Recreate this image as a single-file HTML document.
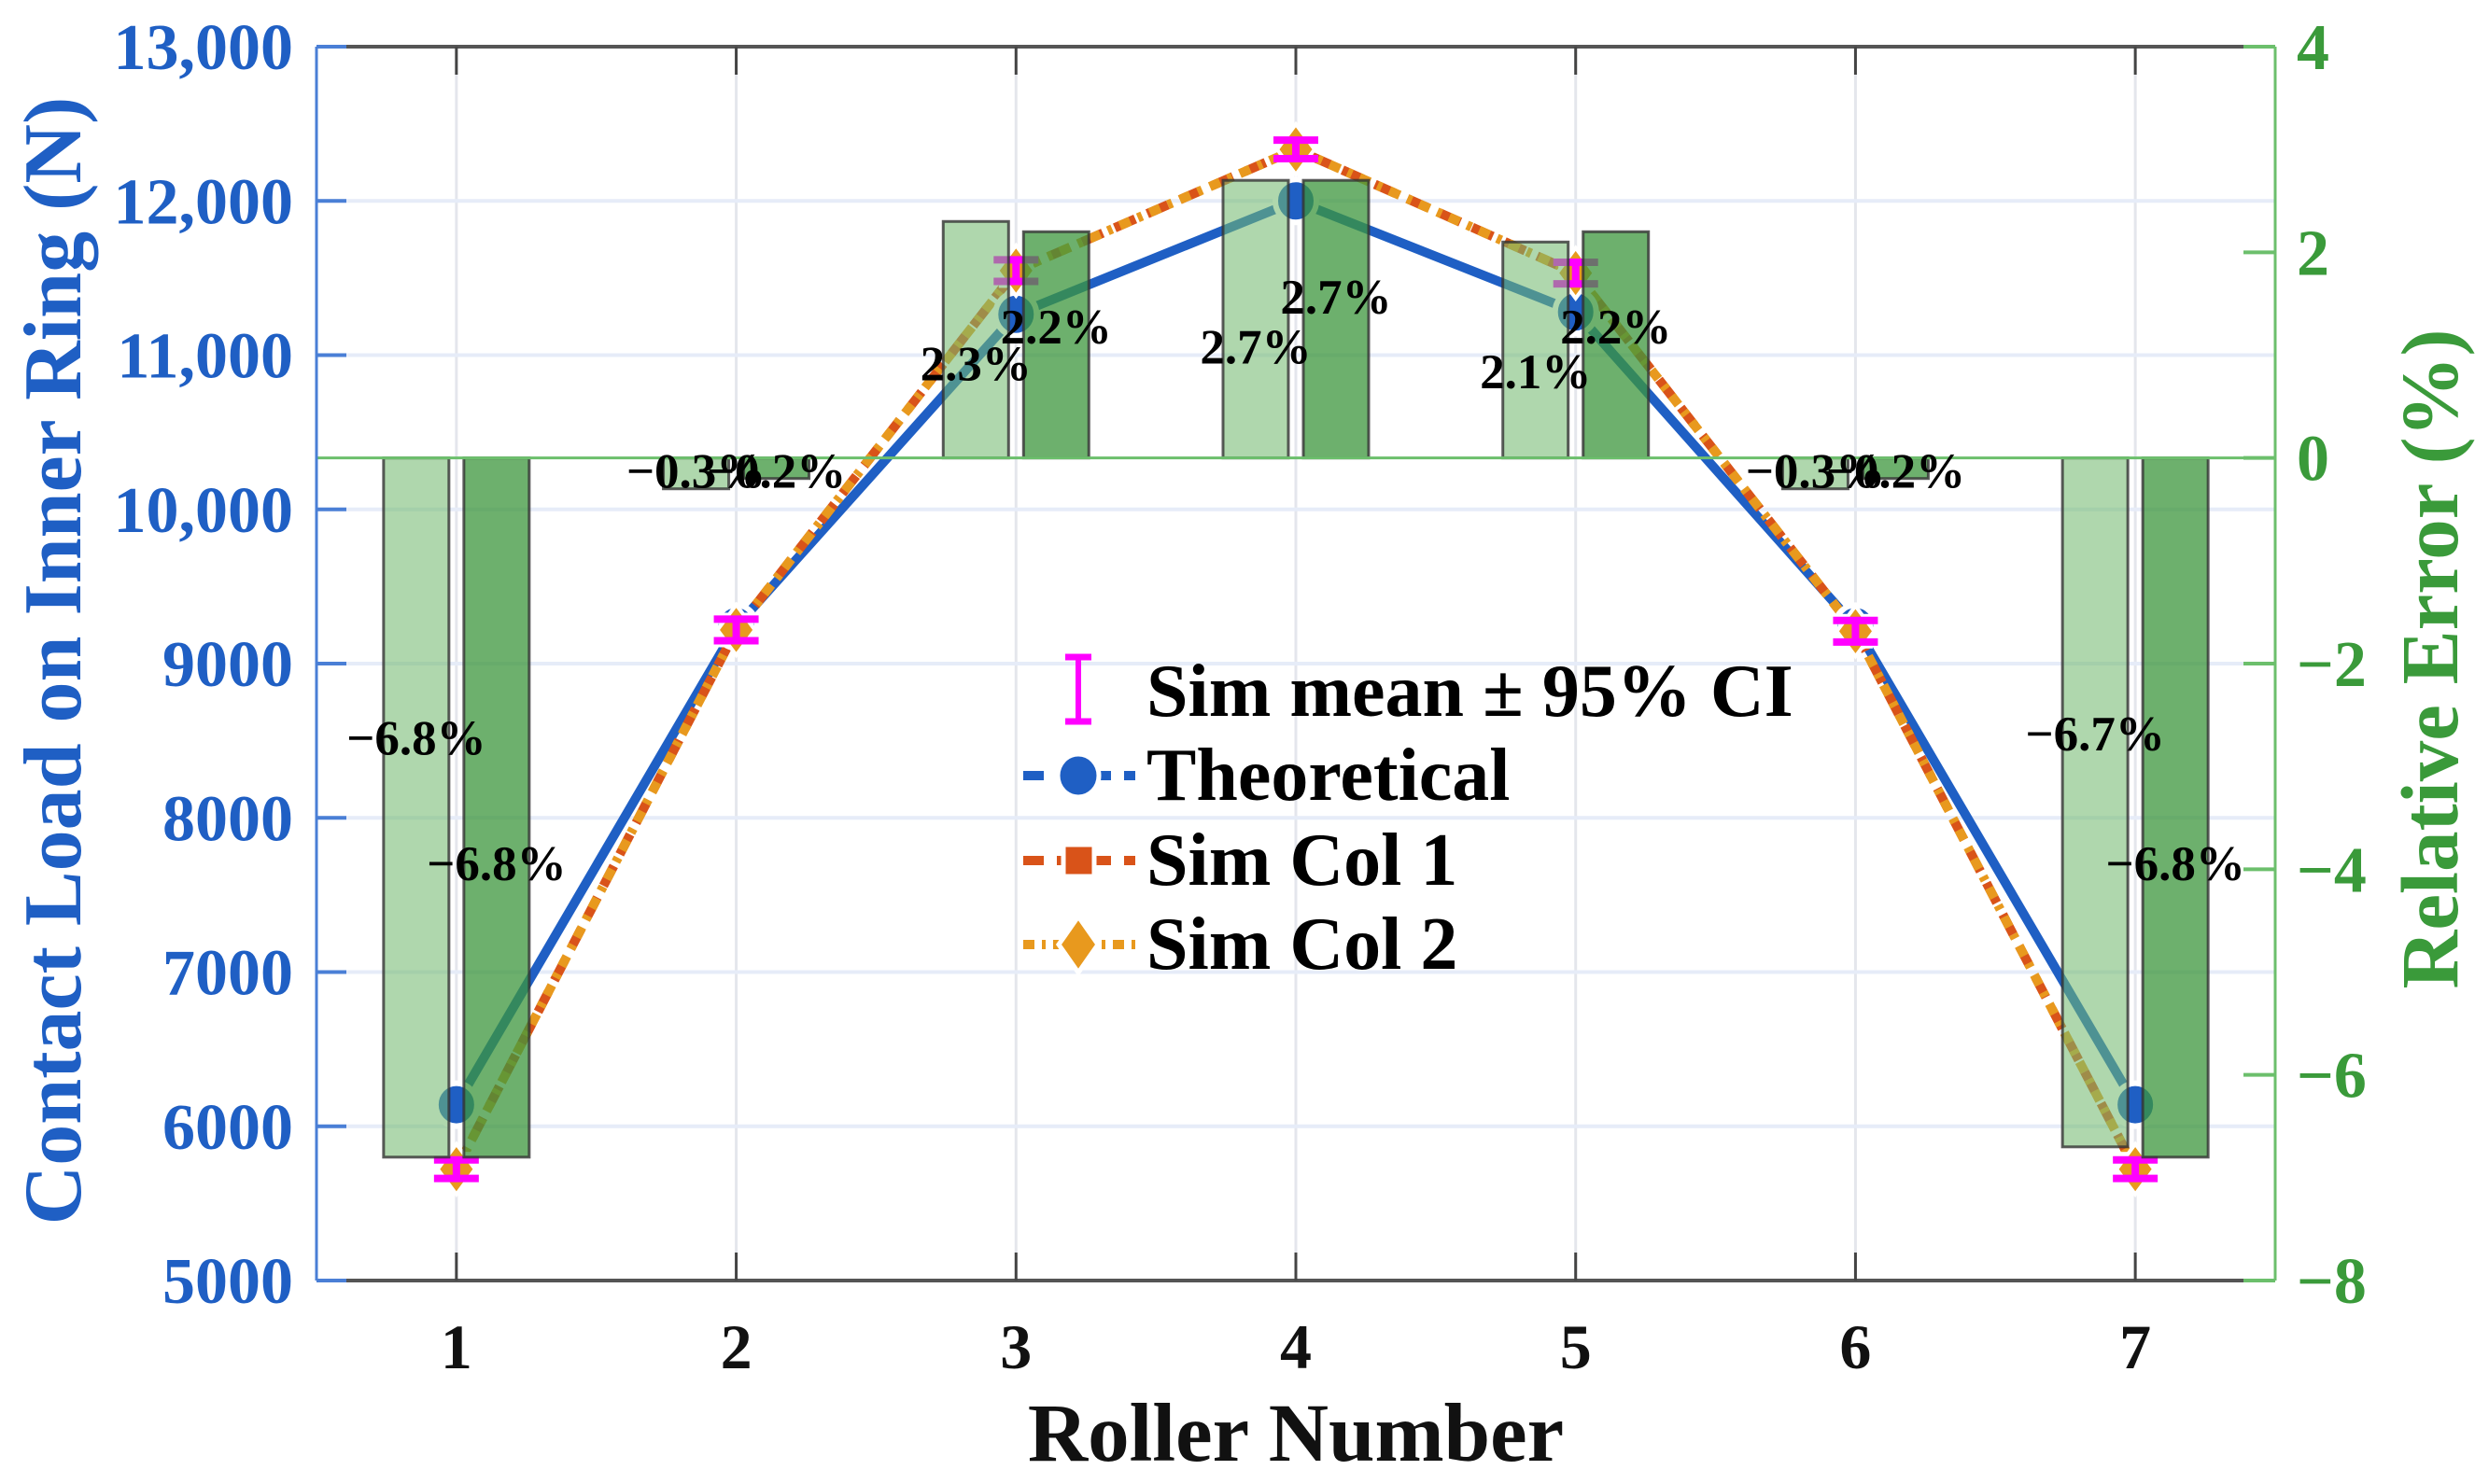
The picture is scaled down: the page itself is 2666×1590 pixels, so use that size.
<!DOCTYPE html>
<html><head><meta charset="utf-8"><style>
html,body{margin:0;padding:0;background:#fff;}
svg{display:block;}
text{font-family:"Liberation Serif",serif;font-weight:bold;}
</style></head><body>
<svg id="chart" width="2666" height="1590" viewBox="0 0 2666 1590" xmlns="http://www.w3.org/2000/svg">
<g id="grid"></g>
<g id="lines"></g>
<g id="bars"></g>
<g id="axes"></g>
<g id="labels"></g>
<g id="legend">
  <line x1="1155" y1="704" x2="1155" y2="773" stroke="#ff00ff" stroke-width="6"/>
  <line x1="1141" y1="704" x2="1169" y2="704" stroke="#ff00ff" stroke-width="7"/>
  <line x1="1141" y1="773" x2="1169" y2="773" stroke="#ff00ff" stroke-width="7"/>
  <text x="1228" y="767" font-size="80">Sim mean ± 95% CI</text>
  <line x1="1096" y1="831" x2="1216" y2="831" stroke="#1f5fc4" stroke-width="10" stroke-dasharray="22,14"/>
  <ellipse cx="1155" cy="831" rx="22" ry="23" fill="#1f5fc4" stroke="#fff" stroke-width="5"/>
  <text x="1228" y="857" font-size="80">Theoretical</text>
  <line x1="1096" y1="922" x2="1216" y2="922" stroke="#d95319" stroke-width="10" stroke-dasharray="22,14"/>
  <rect x="1139" y="905" width="33" height="34" fill="#d95319" stroke="#fff" stroke-width="5"/>
  <text x="1228" y="948" font-size="80">Sim Col 1</text>
  <line x1="1096" y1="1012" x2="1216" y2="1012" stroke="#e8991e" stroke-width="10" stroke-dasharray="12,8,4,8"/>
  <polygon points="1155,982 1176,1012 1155,1042 1134,1012" fill="#e8991e" stroke="#fff" stroke-width="5"/>
  <text x="1228" y="1038" font-size="80">Sim Col 2</text>
</g>
<text transform="translate(86,708) rotate(-90)" text-anchor="middle" font-size="88" fill="#1f5fc4">Contact Load on Inner Ring (N)</text>
<text transform="translate(2632,706) rotate(-90)" text-anchor="middle" font-size="87" fill="#3a9a3a">Relative Error (%)</text>
<text x="1388" y="1565" text-anchor="middle" font-size="89" fill="#111">Roller Number</text>
</svg>
<script>
const rollers = [1,2,3,4,5,6,7];
const theoretical = [6140, 9240, 11265, 12000, 11280, 9240, 6140];
const simCol1 = [5722, 9218, 11548, 12334, 11532, 9210, 5722];
const simCol2 = [5722, 9218, 11548, 12334, 11532, 9210, 5722];
const ciHalf = [60, 70, 70, 60, 70, 70, 60];
const errCol1 = [-6.8, -0.3, 2.3, 2.7, 2.1, -0.3, -6.7];
const errCol2 = [-6.8, -0.2, 2.2, 2.7, 2.2, -0.2, -6.8];
const errLabels1 = ["−6.8%","−0.3%","2.3%","2.7%","2.1%","−0.3%","−6.7%"];
const errLabels2 = ["−6.8%","−0.2%","2.2%","2.7%","2.2%","−0.2%","−6.8%"];
const leftTicks = [5000,6000,7000,8000,9000,10000,11000,12000,13000];
const leftTickLabels = ["5000","6000","7000","8000","9000","10,000","11,000","12,000","13,000"];
const rightTicks = [-8,-6,-4,-2,0,2,4];
const rightTickLabels = ["−8","−6","−4","−2","0","2","4"];

const NS="http://www.w3.org/2000/svg";
const L=339,R=2437,T=50,B=1372;
const xs=v=>L+(v-0.5)*(R-L)/7;
const yl=v=>B-(v-5000)*(B-T)/8000;
const yr=v=>B-(v+8)*(B-T)/12;
function mk(parent,tag,attrs){const e=document.createElementNS(NS,tag);for(const k in attrs)e.setAttribute(k,attrs[k]);document.getElementById(parent).appendChild(e);return e;}

rollers.forEach(r=>{const e=mk('grid','line',{x1:xs(r),x2:xs(r),y1:T,y2:B,stroke:'#e4e6ec','stroke-width':3});

});
leftTicks.forEach(t=>{const e=mk('grid','line',{x1:L,x2:R,y1:yl(t),y2:yl(t),stroke:'#e6ecf8','stroke-width':4});

});

function series(vals,color,dash,name){
  const pts=vals.map((v,i)=>xs(rollers[i])+','+yl(v)).join(' ');
  const e=mk('lines','polyline',{points:pts,fill:'none',stroke:color,'stroke-width':10,'stroke-dasharray':dash,'stroke-linejoin':'round'});
  
  
}
series(theoretical,'#1f5fc4','none','theoretical-line');
series(simCol1,'#d95319','24,14','sim-col-1-line');
series(simCol2,'#e8991e','12,9,5,9','sim-col-2-line');
theoretical.forEach((v,i)=>{const e=mk('lines','ellipse',{cx:xs(rollers[i]),cy:yl(v),rx:22,ry:23,fill:'#1f5fc4',stroke:'#fff','stroke-width':6});

});
simCol1.forEach((v,i)=>{const x=xs(rollers[i]),y=yl(v);const e=mk('lines','rect',{x:x-16,y:y-16,width:32,height:32,fill:'#d95319',stroke:'#fff','stroke-width':5});

});
simCol2.forEach((v,i)=>{const x=xs(rollers[i]),y=yl(v);const e=mk('lines','polygon',{points:`${x},${y-27} ${x+20},${y} ${x},${y+27} ${x-20},${y}`,fill:'#e8991e',stroke:'#fff','stroke-width':4});

});
simCol2.forEach((v,i)=>{const x=xs(rollers[i]);const y1=yl(v+ciHalf[i]),y2=yl(v-ciHalf[i]);
const e=mk('lines','path',{d:`M${x},${y1}V${y2}M${x-24},${y1}H${x+24}M${x-24},${y2}H${x+24}`,stroke:'#ff00ff','stroke-width':8,fill:'none'});

});

const bw=70,off=43;
rollers.forEach((r,i)=>{
  const y0=yr(0);
  [[errCol1[i],-off,'rgba(115,185,110,0.57)','error-bar-col-1'],[errCol2[i],off,'rgba(60,150,60,0.75)','error-bar-col-2']].forEach(([v,o,c,n])=>{
    const y=yr(v);
    const e=mk('bars','rect',{x:xs(r)+o-bw/2,y:Math.min(y,y0),width:bw,height:Math.abs(y-y0),fill:c,stroke:'#333','stroke-width':3,'stroke-opacity':0.8});
    
    
  });
});

const ax=(x1,y1,x2,y2,c,w)=>mk('axes','line',{x1,y1,x2,y2,stroke:c,'stroke-width':w});
ax(L,T,R,T,'#555',4);ax(L,B,R,B,'#555',4);
ax(L,yr(0),R,yr(0),'#6cbf6c',3);
ax(L,T,L,B,'#4a7fd6',3);ax(R,T,R,B,'#6cbf6c',3);
rollers.forEach((r,i)=>{ax(xs(r),B,xs(r),B-30,'#444',3);ax(xs(r),T,xs(r),T+30,'#444',3);
const t=mk('axes','text',{x:xs(r),y:1466,'text-anchor':'middle','font-size':68,fill:'#111'});t.textContent=String(r);

});
leftTicks.forEach((v,i)=>{ax(L,yl(v),L+32,yl(v),'#4a7fd6',4);
const t=mk('axes','text',{x:314,y:yl(v)+24,'text-anchor':'end','font-size':70,fill:'#1f5fc4'});t.textContent=leftTickLabels[i];

});
rightTicks.forEach((v,i)=>{ax(R,yr(v),R-34,yr(v),'#6cbf6c',4);
const t=mk('axes','text',{x:2460,y:yr(v)+24,'font-size':70,fill:'#3a9a3a'});t.textContent=rightTickLabels[i];

});

rollers.forEach((r,i)=>{
  [[errCol1[i],errLabels1[i],-off,0.4],[errCol2[i],errLabels2[i],off,0.58]].forEach(([v,s,o,k])=>{
    let yy=yr(v*k)+18; if(Math.abs(v)<1) yy=yr(0)+32;
    const t=mk('labels','text',{x:xs(r)+o,y:yy,'text-anchor':'middle','font-size':53,fill:'#000'});
    t.textContent=s;
    
    
  });
});
</script>
</body></html>
